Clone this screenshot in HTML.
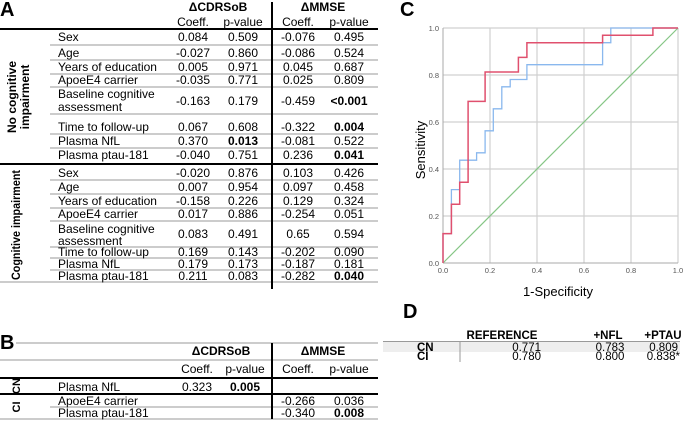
<!DOCTYPE html>
<html><head><meta charset="utf-8"><style>
html,body{margin:0;padding:0;background:#fff;}
svg{display:block;font-family:"Liberation Sans",Arial,sans-serif;}
</style></head><body>
<svg width="685" height="436" viewBox="0 0 685 436" xmlns="http://www.w3.org/2000/svg">
<!-- Panel A -->
<text x="0" y="16" font-size="20" font-weight="bold">A</text>
<g font-size="12" fill="#000">
<text x="218" y="11" text-anchor="middle" font-weight="bold">ΔCDRSoB</text>
<text x="323" y="11" text-anchor="middle" font-weight="bold">ΔMMSE</text>
<text x="193" y="26" text-anchor="middle">Coeff.</text>
<text x="243" y="26" text-anchor="middle">p-value</text>
<text x="298" y="26" text-anchor="middle">Coeff.</text>
<text x="349" y="26" text-anchor="middle">p-value</text>
</g>
<line x1="0" y1="29" x2="378" y2="29" stroke="#000" stroke-width="2"/>
<line x1="0" y1="164" x2="378" y2="164" stroke="#000" stroke-width="2"/>
<g stroke="#999" stroke-width="1">
<line x1="50" y1="45" x2="378" y2="45"/><line x1="50" y1="60" x2="378" y2="60"/>
<line x1="50" y1="74" x2="378" y2="74"/><line x1="50" y1="87" x2="378" y2="87"/>
<line x1="50" y1="114" x2="378" y2="114"/><line x1="50" y1="134" x2="378" y2="134"/>
<line x1="50" y1="148" x2="378" y2="148"/>
<line x1="50" y1="180" x2="378" y2="180"/><line x1="50" y1="194" x2="378" y2="194"/>
<line x1="50" y1="208" x2="378" y2="208"/><line x1="50" y1="221" x2="378" y2="221"/>
<line x1="50" y1="247" x2="378" y2="247"/><line x1="50" y1="258" x2="378" y2="258"/>
<line x1="50" y1="270" x2="378" y2="270"/><line x1="0" y1="282" x2="378" y2="282"/>
</g>
<line x1="272" y1="2" x2="272" y2="289" stroke="#000" stroke-width="2"/>
<g font-size="12" font-weight="bold">
<text transform="translate(16,97) rotate(-90)" text-anchor="middle">No cognitive</text>
<text transform="translate(29,97) rotate(-90)" text-anchor="middle">impairment</text>
<text transform="translate(20,225) rotate(-90)" text-anchor="middle" textLength="110" lengthAdjust="spacingAndGlyphs">Cognitive impairment</text>
</g>
<g font-size="12" fill="#000">
<g>
<text x="58" y="41">Sex</text><text x="193" y="41" text-anchor="middle">0.084</text><text x="243" y="41" text-anchor="middle">0.509</text><text x="298" y="41" text-anchor="middle">-0.076</text><text x="349" y="41" text-anchor="middle">0.495</text>
<text x="58" y="57">Age</text><text x="193" y="57" text-anchor="middle">-0.027</text><text x="243" y="57" text-anchor="middle">0.860</text><text x="298" y="57" text-anchor="middle">-0.086</text><text x="349" y="57" text-anchor="middle">0.524</text>
<text x="58" y="71">Years of education</text><text x="193" y="71" text-anchor="middle">0.005</text><text x="243" y="71" text-anchor="middle">0.971</text><text x="298" y="71" text-anchor="middle">0.045</text><text x="349" y="71" text-anchor="middle">0.687</text>
<text x="58" y="84">ApoeE4 carrier</text><text x="193" y="84" text-anchor="middle">-0.035</text><text x="243" y="84" text-anchor="middle">0.771</text><text x="298" y="84" text-anchor="middle">0.025</text><text x="349" y="84" text-anchor="middle">0.809</text>
<text x="58" y="98">Baseline cognitive</text><text x="58" y="111">assessment</text><text x="193" y="105" text-anchor="middle">-0.163</text><text x="243" y="105" text-anchor="middle">0.179</text><text x="298" y="105" text-anchor="middle">-0.459</text><text x="349" y="105" text-anchor="middle" font-weight="bold">&lt;0.001</text>
<text x="58" y="131">Time to follow-up</text><text x="193" y="131" text-anchor="middle">0.067</text><text x="243" y="131" text-anchor="middle">0.608</text><text x="298" y="131" text-anchor="middle">-0.322</text><text x="349" y="131" text-anchor="middle" font-weight="bold">0.004</text>
<text x="58" y="145">Plasma NfL</text><text x="193" y="145" text-anchor="middle">0.370</text><text x="243" y="145" text-anchor="middle" font-weight="bold">0.013</text><text x="298" y="145" text-anchor="middle">-0.081</text><text x="349" y="145" text-anchor="middle">0.522</text>
<text x="58" y="159">Plasma ptau-181</text><text x="193" y="159" text-anchor="middle">-0.040</text><text x="243" y="159" text-anchor="middle">0.751</text><text x="298" y="159" text-anchor="middle">0.236</text><text x="349" y="159" text-anchor="middle" font-weight="bold">0.041</text>
</g>
<g>
<text x="58" y="177">Sex</text><text x="193" y="177" text-anchor="middle">-0.020</text><text x="243" y="177" text-anchor="middle">0.876</text><text x="298" y="177" text-anchor="middle">0.103</text><text x="349" y="177" text-anchor="middle">0.426</text>
<text x="58" y="191">Age</text><text x="193" y="191" text-anchor="middle">0.007</text><text x="243" y="191" text-anchor="middle">0.954</text><text x="298" y="191" text-anchor="middle">0.097</text><text x="349" y="191" text-anchor="middle">0.458</text>
<text x="58" y="205">Years of education</text><text x="193" y="205" text-anchor="middle">-0.158</text><text x="243" y="205" text-anchor="middle">0.226</text><text x="298" y="205" text-anchor="middle">0.129</text><text x="349" y="205" text-anchor="middle">0.324</text>
<text x="58" y="218">ApoeE4 carrier</text><text x="193" y="218" text-anchor="middle">0.017</text><text x="243" y="218" text-anchor="middle">0.886</text><text x="298" y="218" text-anchor="middle">-0.254</text><text x="349" y="218" text-anchor="middle">0.051</text>
<text x="58" y="233">Baseline cognitive</text><text x="58" y="245">assessment</text><text x="193" y="238" text-anchor="middle">0.083</text><text x="243" y="238" text-anchor="middle">0.491</text><text x="298" y="238" text-anchor="middle">0.65</text><text x="349" y="238" text-anchor="middle">0.594</text>
<text x="58" y="256">Time to follow-up</text><text x="193" y="256" text-anchor="middle">0.169</text><text x="243" y="256" text-anchor="middle">0.143</text><text x="298" y="256" text-anchor="middle">-0.202</text><text x="349" y="256" text-anchor="middle">0.090</text>
<text x="58" y="268">Plasma NfL</text><text x="193" y="268" text-anchor="middle">0.179</text><text x="243" y="268" text-anchor="middle">0.173</text><text x="298" y="268" text-anchor="middle">-0.187</text><text x="349" y="268" text-anchor="middle">0.181</text>
<text x="58" y="280">Plasma ptau-181</text><text x="193" y="280" text-anchor="middle">0.211</text><text x="243" y="280" text-anchor="middle">0.083</text><text x="298" y="280" text-anchor="middle">-0.282</text><text x="349" y="280" text-anchor="middle" font-weight="bold">0.040</text>
</g>
</g>

<!-- Panel B -->
<text x="0" y="349" font-size="20" font-weight="bold">B</text>
<g stroke="#999" stroke-width="1">
<line x1="16" y1="343" x2="378" y2="343"/>
<line x1="0" y1="360" x2="378" y2="360"/>
<line x1="50" y1="407" x2="378" y2="407"/>
<line x1="0" y1="419" x2="378" y2="419"/>
</g>
<line x1="0" y1="378" x2="378" y2="378" stroke="#000" stroke-width="2"/>
<line x1="0" y1="394" x2="378" y2="394" stroke="#000" stroke-width="2"/>
<line x1="272" y1="343" x2="272" y2="419" stroke="#000" stroke-width="2"/>
<g font-size="12">
<text x="221" y="355" text-anchor="middle" font-weight="bold">ΔCDRSoB</text>
<text x="323" y="355" text-anchor="middle" font-weight="bold">ΔMMSE</text>
<text x="197" y="373" text-anchor="middle">Coeff.</text>
<text x="245" y="373" text-anchor="middle">p-value</text>
<text x="298" y="373" text-anchor="middle">Coeff.</text>
<text x="349" y="373" text-anchor="middle">p-value</text>
<text transform="translate(20,386) rotate(-90)" text-anchor="middle" font-weight="bold" font-size="11">CN</text>
<text transform="translate(20,407) rotate(-90)" text-anchor="middle" font-weight="bold" font-size="11">CI</text>
<text x="58" y="391">Plasma NfL</text><text x="197" y="391" text-anchor="middle">0.323</text><text x="245" y="391" text-anchor="middle" font-weight="bold">0.005</text>
<text x="58" y="405">ApoeE4 carrier</text><text x="298" y="405" text-anchor="middle">-0.266</text><text x="349" y="405" text-anchor="middle">0.036</text>
<text x="58" y="417">Plasma ptau-181</text><text x="298" y="417" text-anchor="middle">-0.340</text><text x="349" y="417" text-anchor="middle" font-weight="bold">0.008</text>
</g>

<!-- Panel C -->
<text x="400" y="16" font-size="20" font-weight="bold">C</text>
<g stroke="#d0d0d0" stroke-width="1.2">
<line x1="443" y1="28" x2="678" y2="28"/><line x1="443" y1="75" x2="678" y2="75"/>
<line x1="443" y1="122" x2="678" y2="122"/><line x1="443" y1="169" x2="678" y2="169"/>
<line x1="443" y1="216" x2="678" y2="216"/>
<line x1="490" y1="28" x2="490" y2="263"/><line x1="537" y1="28" x2="537" y2="263"/>
<line x1="584" y1="28" x2="584" y2="263"/><line x1="631" y1="28" x2="631" y2="263"/>
<line x1="678" y1="28" x2="678" y2="263"/>
</g>
<line x1="443" y1="28" x2="443" y2="263" stroke="#aaa"/>
<line x1="443" y1="263" x2="678" y2="263" stroke="#aaa"/>
<line x1="443" y1="263" x2="678" y2="28" stroke="#86c686" stroke-width="1.2"/>
<polyline fill="none" stroke="#8ab8ee" stroke-width="1.3" points="443,263 443,233.6 451.4,233.6 451.4,189.6 459.7,189.6 459.7,160.2 476.6,160.2 476.6,152.8 485.1,152.8 485.1,130.8 493.3,130.8 493.3,108.8 501.8,108.8 501.8,86.8 510.2,86.8 510.2,79.5 526.9,79.5 526.9,64.7 602.6,64.7 602.6,42.7 610.8,42.7 610.8,28 678,28"/>
<polyline fill="none" stroke="#e0506e" stroke-width="1.5" points="443,263 443,233.6 451.4,233.6 451.4,204.3 459.7,204.3 459.7,182.2 468.1,182.2 468.1,101.4 485.1,101.4 485.1,72 518.4,72 518.4,57.4 526.9,57.4 526.9,42.7 602.6,42.7 602.6,35.3 652.9,35.3 652.9,28 678,28"/>
<g font-size="7.5" fill="#555">
<text x="439" y="31" text-anchor="end">1.0</text><text x="439" y="78" text-anchor="end">0.8</text>
<text x="439" y="125" text-anchor="end">0.6</text><text x="439" y="172" text-anchor="end">0.4</text>
<text x="439" y="219" text-anchor="end">0.2</text><text x="439" y="266" text-anchor="end">0.0</text>
<text x="443" y="273" text-anchor="middle">0.0</text><text x="490" y="273" text-anchor="middle">0.2</text>
<text x="537" y="273" text-anchor="middle">0.4</text><text x="584" y="273" text-anchor="middle">0.6</text>
<text x="631" y="273" text-anchor="middle">0.8</text><text x="678" y="273" text-anchor="middle">1.0</text>
</g>
<text x="558" y="296" font-size="13" text-anchor="middle">1-Specificity</text>
<text transform="translate(425,150) rotate(-90)" font-size="13" text-anchor="middle">Sensitivity</text>

<!-- Panel D -->
<text x="403" y="318" font-size="20" font-weight="bold">D</text>
<rect x="383" y="342" width="297" height="10" fill="#eeeeee"/>
<line x1="383" y1="341.5" x2="680" y2="341.5" stroke="#999"/>
<line x1="460" y1="342" x2="460" y2="362" stroke="#999"/>
<g font-size="11.5" font-weight="bold">
<text x="502" y="339" text-anchor="middle">REFERENCE</text>
<text x="608" y="339" text-anchor="middle">+NFL</text>
<text x="663" y="339" text-anchor="middle">+PTAU</text>
<text x="417" y="351">CN</text>
<text x="417" y="360">CI</text>
</g>
<g font-size="11.5">
<text x="541" y="351" text-anchor="end">0.771</text><text x="610" y="351" text-anchor="middle">0.783</text><text x="678" y="351" text-anchor="end">0.809</text>
<text x="541" y="360" text-anchor="end">0.780</text><text x="610" y="360" text-anchor="middle">0.800</text><text x="680" y="360" text-anchor="end">0.838*</text>
</g>
</svg>
</body></html>
